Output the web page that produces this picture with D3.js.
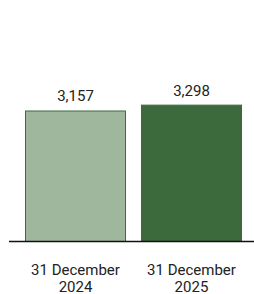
<!DOCTYPE html>
<html>
<head>
<meta charset="utf-8">
<script src="https://cdn.jsdelivr.net/npm/d3@7"></script>
<style>
  html, body { margin: 0; padding: 0; background: #fff; }
  svg { display: block; }
</style>
</head>
<body>
<div id="chart"></div>
<script>
const categories = ["31 December 2024", "31 December 2025"];
const catLines = [["31 December", "2024"], ["31 December", "2025"]];
const values = [3157, 3298];
const valueLabels = ["3,157", "3,298"];
const fills = ["#9fb89d", "#3c6a3c"];

const width = 254, height = 294;
const baseY = 241;

const svg = d3.select("#chart").append("svg")
    .attr("width", width)
    .attr("height", height);

const x = d3.scaleBand()
    .domain(categories)
    .range([25, 242])
    .paddingInner(0.129)
    .paddingOuter(0);

const y = d3.scaleLinear()
    .domain([0, 3500])
    .range([baseY, 96.3]);

const data = categories.map((c, i) => ({ cat: c, value: values[i], label: valueLabels[i], lines: catLines[i], fill: fills[i] }));

svg.selectAll(".bar")
    .data(data)
    .enter().append("rect")
    .attr("class", "bar")
    .attr("x", d => x(d.cat) + 0.5)
    .attr("y", d => y(d.value) + 0.5)
    .attr("width", x.bandwidth() - 1)
    .attr("height", d => baseY - y(d.value))
    .attr("fill", d => d.fill)
    .attr("stroke", "#3c6a3c")
    .attr("stroke-width", 1);

svg.selectAll(".val")
    .data(data)
    .enter().append("text")
    .attr("class", "val")
    .attr("x", d => x(d.cat) + x.bandwidth() / 2)
    .attr("y", d => y(d.value) - 9)
    .attr("text-anchor", "middle")
    .attr("font-family", "Roboto, sans-serif")
    .attr("font-size", "15px")
    .attr("fill", "#222")
    .text(d => d.label);

svg.append("line")
    .attr("x1", 9).attr("x2", width)
    .attr("y1", baseY + 0.5).attr("y2", baseY + 0.5)
    .attr("stroke", "#111")
    .attr("stroke-width", 1.6);

const cat = svg.selectAll(".cat")
    .data(data)
    .enter().append("text")
    .attr("class", "cat")
    .attr("text-anchor", "middle")
    .attr("font-family", "Roboto, sans-serif")
    .attr("font-size", "15px")
    .attr("fill", "#222");

cat.selectAll("tspan")
    .data(d => d.lines.map(t => ({ t, cx: x(d.cat) + x.bandwidth() / 2 })))
    .enter().append("tspan")
    .attr("x", d => d.cx)
    .attr("y", (d, i) => 275 + i * 17)
    .text(d => d.t);
</script>
</body>
</html>
